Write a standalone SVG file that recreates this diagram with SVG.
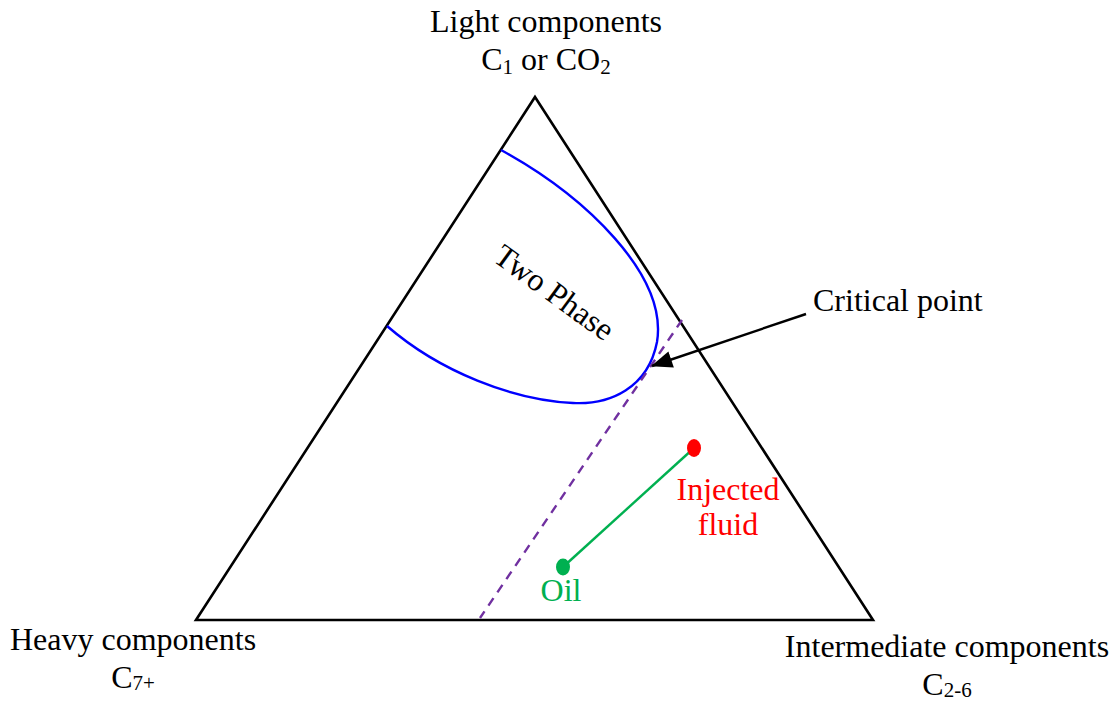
<svg xmlns="http://www.w3.org/2000/svg" width="1120" height="706" viewBox="0 0 1120 706">
<defs>
<style>
text{font-family:"Liberation Serif","Times New Roman",serif;font-size:32px;fill:#000}
.sub{font-size:21px}
</style>
<marker id="ah2" viewBox="0 0 20 16" refX="19" refY="8" markerWidth="22" markerHeight="17" orient="auto" markerUnits="userSpaceOnUse">
<path d="M0,0 L20,8 L0,16 Z" fill="#000"/>
</marker>
</defs>
<rect width="1120" height="706" fill="#fff"/>
<g id="triangle">
<path d="M535,97 L873,620 L196,620 Z" fill="none" stroke="#000" stroke-width="2.6" stroke-linejoin="miter"/>
</g>
<g id="two-phase">
<path d="M501,150 C585,196 668,275 657,342 C648,388 610,405 573,403 C513,400 440,372 387,326" fill="none" stroke="#0000FF" stroke-width="2.4"/>
<text x="554" y="303" text-anchor="middle" transform="rotate(36 554 293)">Two Phase</text>
</g>
<g id="connectors">
<line x1="682" y1="320" x2="480" y2="618" stroke="#7030A0" stroke-width="2.4" stroke-dasharray="9,7"/>
<line x1="806" y1="314" x2="652" y2="366" stroke="#000" stroke-width="2.4" marker-end="url(#ah2)"/>
<line x1="563" y1="567" x2="694" y2="448" stroke="#00B050" stroke-width="2.4"/>
</g>
<g id="critical-point">
<text x="813" y="311">Critical point</text>
</g>
<g id="injected-fluid">
<ellipse cx="694" cy="448" rx="7" ry="9" fill="#FF0000"/>
<text x="728" y="500" text-anchor="middle" style="fill:#FF0000">Injected</text>
<text x="728" y="535" text-anchor="middle" style="fill:#FF0000">fluid</text>
</g>
<g id="oil">
<ellipse cx="563" cy="567" rx="7" ry="8.5" fill="#00B050"/>
<text x="561" y="601" text-anchor="middle" style="fill:#00B050">Oil</text>
</g>
<g id="light">
<text x="546" y="32" text-anchor="middle">Light components</text>
<text x="546" y="70" text-anchor="middle">C<tspan class="sub" dy="4">1</tspan><tspan dy="-4"> or CO</tspan><tspan class="sub" dy="4">2</tspan></text>
</g>
<g id="heavy">
<text x="133" y="650" text-anchor="middle">Heavy components</text>
<text x="133" y="688" text-anchor="middle">C<tspan class="sub" dy="2">7+</tspan></text>
</g>
<g id="intermediate">
<text x="947" y="657" text-anchor="middle">Intermediate components</text>
<text x="947" y="695" text-anchor="middle">C<tspan class="sub" dy="2">2-6</tspan></text>
</g>
</svg>
